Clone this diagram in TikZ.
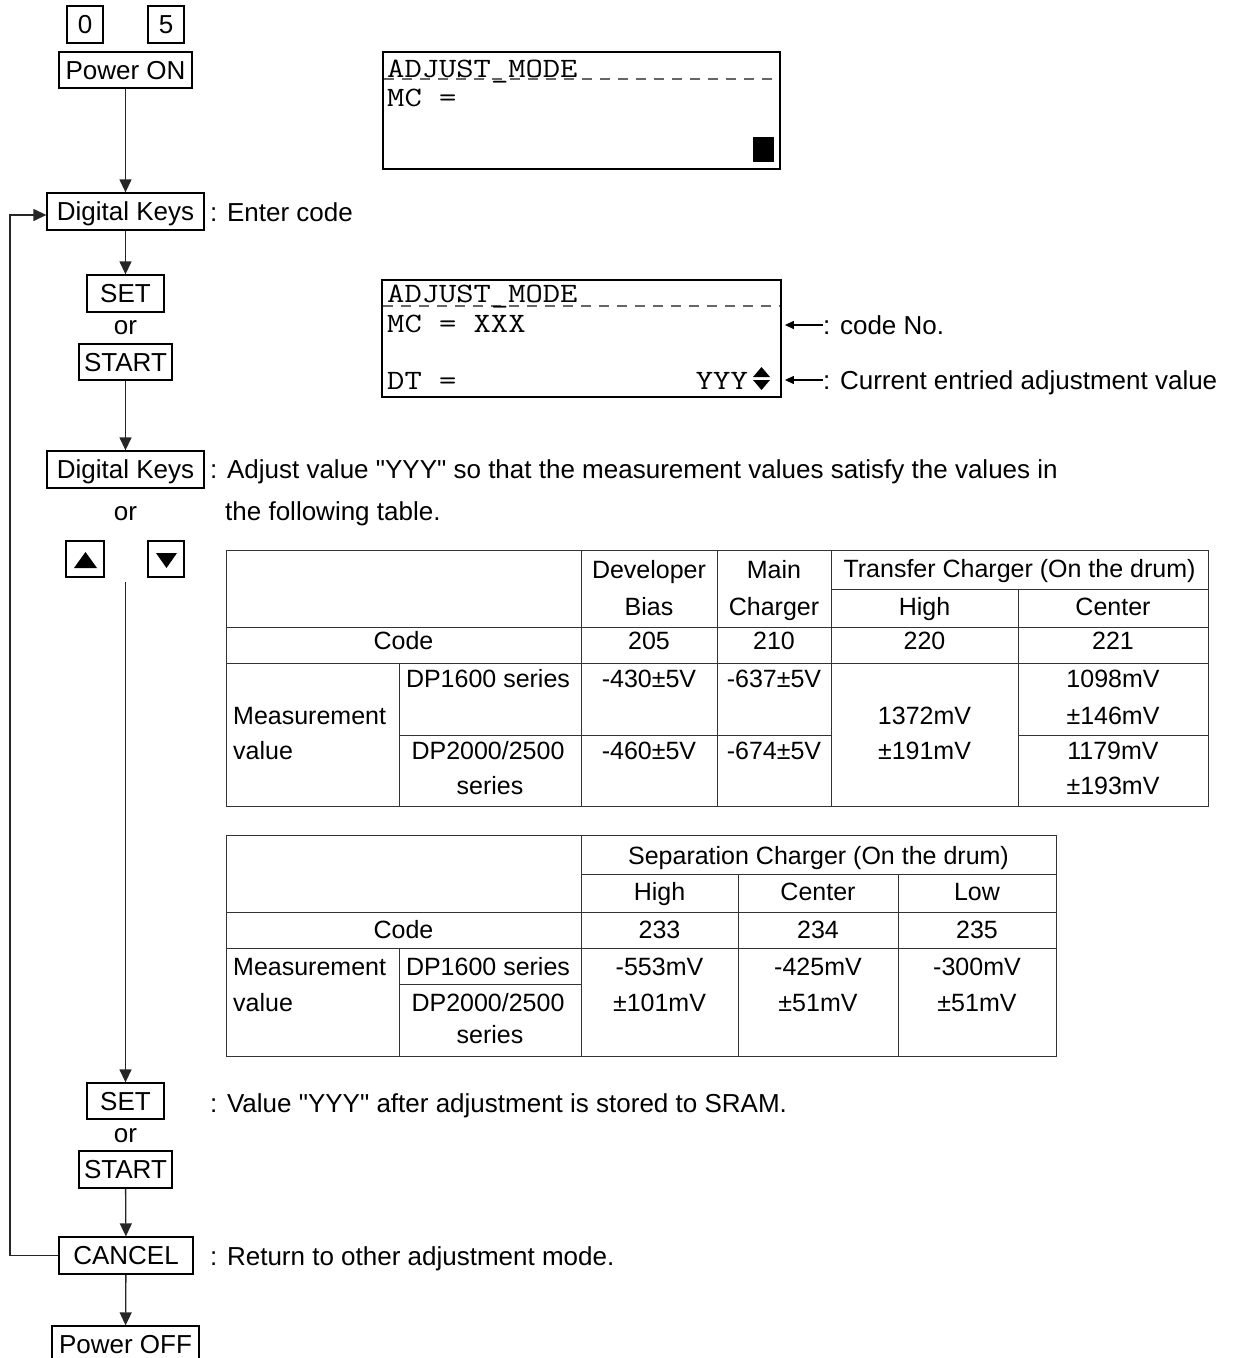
\documentclass[tikz,border=0pt]{standalone}
\usepackage{fontspec}
\setmainfont{Liberation Sans}[Ligatures=TeXOff]
\usepackage{graphicx}
\usetikzlibrary{arrows.meta}
\newcommand\flowfont{\fontsize{26}{30}\selectfont}
\newcommand\tabfont{\fontsize{25}{29}\selectfont}
\newcommand\lcdtext[1]{\scalebox{1.2}[1]{\fontsize{28}{32}\selectfont\ttfamily #1}}
\begin{document}
\begin{tikzpicture}[x=1pt,y=-1pt,
  keybox/.style={draw=black,line width=1.3pt,inner sep=0pt,font=\flowfont,text height=18.6pt,text depth=0pt},
  lbl/.style={inner sep=0pt,font=\flowfont,text height=18.6pt,text depth=0pt,anchor=west},
  conn/.style={draw=black!85,line width=1.3pt},
  arr/.style={conn,-{Triangle[width=12pt,length=13pt]}},
  sarr/.style={draw=black,line width=1.2pt,-{Triangle[width=8pt,length=9pt]},shorten >=3pt},
  tline/.style={draw=black!80,line width=1pt},
  cell/.style={inner sep=0pt,font=\tabfont,text height=17.9pt,text depth=0pt},
  lcdbox/.style={draw=black,line width=1.8pt,inner sep=0pt},
  lcdline/.style={draw=black!60,line width=1.2pt,dash pattern=on 10pt off 8pt},
  lcdtxt/.style={inner sep=0pt,anchor=base west}]
\useasboundingbox (0,0) rectangle (1238,1358);

% ---------- flow chart ----------
\node[keybox,minimum width=36pt,minimum height=37pt] (k0) at (85,24.5) {0};
\node[keybox,minimum width=36pt,minimum height=37pt] (k5) at (166,24.5) {5};
\node[keybox,minimum width=133pt,minimum height=36pt] (pon) at (125.5,70) {Power ON};
\node[keybox,minimum width=157pt,minimum height=37pt] (dk1) at (125.5,211.5) {Digital Keys};
\node[lbl] (l1) at (210,212) {: Enter code};
\node[keybox,minimum width=77pt,minimum height=37pt] (set1) at (125.5,293.5) {SET};
\node[lbl,anchor=center] (or1) at (125.5,325) {or};
\node[keybox,minimum width=93pt,minimum height=36pt] (start1) at (125.5,362) {START};
\node[keybox,minimum width=157pt,minimum height=37pt] (dk2) at (125.5,469.5) {Digital Keys};
\node[lbl] (l2) at (210,469.5) {: Adjust value "YYY" so that the measurement values satisfy the values in};
\node[lbl,anchor=center] (or2) at (125.5,511) {or};
\node[lbl] (l3) at (225,511) {the following table.};
\node[keybox,minimum width=38pt,minimum height=36pt] (up) at (85,559) {};
\node[keybox,minimum width=36pt,minimum height=36pt] (down) at (166,559) {};
\fill (74,568) -- (97,568) -- (85.5,552) -- cycle;
\fill (156,553) -- (177,553) -- (166.5,568) -- cycle;
\coordinate (ud) at (125.5,582);
\node[keybox,minimum width=77pt,minimum height=36pt] (set2) at (125.5,1101) {SET};
\node[lbl] (l4) at (210,1103) {: Value "YYY" after adjustment is stored to SRAM.};
\node[lbl,anchor=center] (or3) at (125.5,1133) {or};
\node[keybox,minimum width=93pt,minimum height=37pt] (start2) at (125.5,1169.5) {START};
\node[keybox,minimum width=134pt,minimum height=37pt] (cancel) at (126,1255.5) {CANCEL};
\node[lbl] (l5) at (210,1256) {: Return to other adjustment mode.};
\node[keybox,minimum width=147pt,minimum height=36pt] (poff) at (125.5,1344) {Power OFF};

\draw[arr] (pon) -- (dk1);
\draw[arr] (dk1) -- (set1);
\draw[arr] (start1) -- (dk2);
\draw[arr] (ud) -- (set2);
\draw[arr] (start2) -- (cancel);
\draw[arr] (cancel) -- (poff);
\coordinate (lb) at (10,1256);
\draw[arr] (cancel.west) -- (cancel.west -| lb) |- ([yshift=-3.5pt]dk1.west);

% ---------- LCD 1 ----------
\node[lcdbox,minimum width=397pt,minimum height=117pt] (lcd1) at (581.5,110.5) {};
\draw[lcdline] (384,79) -- (779,79);
\node[lcdtxt] (lcd1a) at (387,77) {\lcdtext{ADJUST\_MODE}};
\node[lcdtxt] (lcd1b) at (387,106) {\lcdtext{MC =}};
\fill (753,137) rectangle (774,162);

% ---------- LCD 2 ----------
\node[lcdbox,minimum width=399pt,minimum height=117pt] (lcd2) at (581.5,338.5) {};
\draw[lcdline] (383,306) -- (780,306);
\node[lcdtxt] (lcd2a) at (387,302) {\lcdtext{ADJUST\_MODE}};
\node[lcdtxt] (lcd2b) at (387,332) {\lcdtext{MC = XXX}};
\node[lcdtxt] (lcd2c) at (387,389) {\lcdtext{DT =}};
\node[inner sep=0pt,anchor=base east] (lcd2d) at (748,389) {\lcdtext{YYY}};
\fill (753,377) -- (770,377) -- (761.5,367) -- cycle;
\fill (753,380) -- (770,380) -- (761.5,390) -- cycle;
\node[lbl] (lcode) at (823,325) {: code No.};
\node[lbl] (lcur) at (823,380) {: Current entried adjustment value};
\draw[sarr] (lcode.west) -- (lcode.west -| lcd2.east);
\draw[sarr] (lcur.west) -- (lcur.west -| lcd2.east);

% ---------- Table 1 ----------
\draw[tline] (226,550) rectangle (1208,806);
\draw[tline] (226,627) -- (1208,627);
\draw[tline] (226,663) -- (1208,663);
\draw[tline] (831,589) -- (1208,589);
\draw[tline] (399,735) -- (831,735);
\draw[tline] (1018,735) -- (1208,735);
\draw[tline] (581,550) -- (581,806);
\draw[tline] (717,550) -- (717,806);
\draw[tline] (831,550) -- (831,806);
\draw[tline] (1018,589) -- (1018,806);
\draw[tline] (399,663) -- (399,806);

\node[cell] (a1) at (649,570) {Developer};
\node[cell] (a2) at (649,607) {Bias};
\node[cell] (a3) at (774,570) {Main};
\node[cell] (a4) at (774,607) {Charger};
\node[cell] (a5) at (1019.5,569) {Transfer Charger (On the drum)};
\node[cell] (a6) at (924.5,607) {High};
\node[cell] (a7) at (1113,607) {Center};
\node[cell] (a8) at (403.5,641) {Code};
\node[cell] (a9) at (649,641) {205};
\node[cell] (a10) at (774,641) {210};
\node[cell] (a11) at (924.5,641) {220};
\node[cell] (a12) at (1113,641) {221};
\node[cell,anchor=west] (a13) at (233,716) {Measurement};
\node[cell,anchor=west] (a14) at (233,751) {value};
\node[cell] (a15) at (488,679) {DP1600 series};
\node[cell] (a16) at (488,751) {DP2000/2500};
\node[cell] (a17) at (490,786) {series};
\node[cell] (a18) at (649,679) {-430±5V};
\node[cell] (a19) at (774,679) {-637±5V};
\node[cell] (a20) at (649,751) {-460±5V};
\node[cell] (a21) at (774,751) {-674±5V};
\node[cell] (a22) at (924.5,716) {1372mV};
\node[cell] (a23) at (924.5,751) {±191mV};
\node[cell] (a24) at (1113,679) {1098mV};
\node[cell] (a25) at (1113,716) {±146mV};
\node[cell] (a26) at (1113,751) {1179mV};
\node[cell] (a27) at (1113,786) {±193mV};

% ---------- Table 2 ----------
\draw[tline] (226,835) rectangle (1056,1056);
\draw[tline] (581,874) -- (1056,874);
\draw[tline] (226,912) -- (1056,912);
\draw[tline] (226,948) -- (1056,948);
\draw[tline] (399,984) -- (581,984);
\draw[tline] (581,835) -- (581,1056);
\draw[tline] (738,874) -- (738,1056);
\draw[tline] (898,874) -- (898,1056);
\draw[tline] (399,948) -- (399,1056);

\node[cell] (b1) at (818.5,856) {Separation Charger (On the drum)};
\node[cell] (b2) at (659.5,892) {High};
\node[cell] (b3) at (818,892) {Center};
\node[cell] (b4) at (977,892) {Low};
\node[cell] (b5) at (403.5,930) {Code};
\node[cell] (b6) at (659.5,930) {233};
\node[cell] (b7) at (818,930) {234};
\node[cell] (b8) at (977,930) {235};
\node[cell,anchor=west] (b9) at (233,967) {Measurement};
\node[cell,anchor=west] (b10) at (233,1003) {value};
\node[cell] (b11) at (488,967) {DP1600 series};
\node[cell] (b12) at (488,1003) {DP2000/2500};
\node[cell] (b13) at (490,1035) {series};
\node[cell] (b14) at (659.5,967) {-553mV};
\node[cell] (b15) at (659.5,1003) {±101mV};
\node[cell] (b16) at (818,967) {-425mV};
\node[cell] (b17) at (818,1003) {±51mV};
\node[cell] (b18) at (977,967) {-300mV};
\node[cell] (b19) at (977,1003) {±51mV};
\end{tikzpicture}
\end{document}
